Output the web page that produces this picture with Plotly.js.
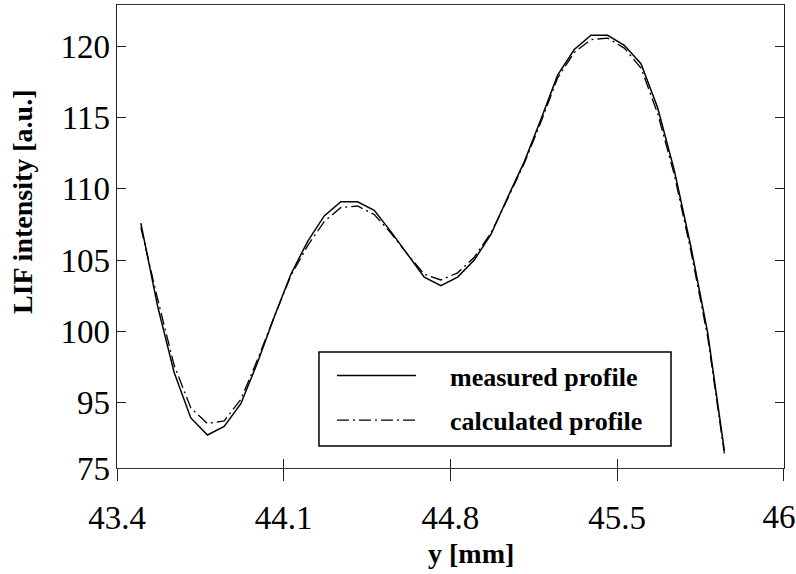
<!DOCTYPE html>
<html>
<head>
<meta charset="utf-8">
<script src="https://cdn.plot.ly/plotly-3.0.1.min.js"></script>
<style>html,body{margin:0;padding:0;background:#fff;}#chart{width:796px;height:574px;}</style>
</head>
<body>
<div id="chart"></div>
<script>
// position along y [mm]
const yPos = [43.50,43.57,43.64,43.71,43.78,43.85,43.92,43.99,44.06,44.13,
              44.20,44.27,44.34,44.41,44.48,44.55,44.62,44.69,44.76,44.83,
              44.90,44.97,45.04,45.11,45.18,45.25,45.32,45.39,45.46,45.53,
              45.60,45.67,45.74,45.81,45.88,45.95];
const measured = [107.6,101.8,97.1,93.9,92.7,93.3,94.9,97.8,101.0,104.0,
                  106.3,108.1,109.1,109.1,108.5,107.0,105.4,103.8,103.2,103.8,
                  105.0,106.8,109.4,111.9,114.9,118.0,119.8,120.8,120.8,120.1,
                  118.8,115.7,111.3,105.9,99.9,91.6];
const calculated = [107.3,102.3,97.6,94.6,93.5,93.7,95.2,98.0,101.0,103.9,
                    106.0,107.7,108.7,108.8,108.2,106.9,105.4,104.0,103.6,104.1,
                    105.2,106.9,109.3,111.8,114.7,117.8,119.6,120.5,120.6,119.9,
                    118.5,115.3,111.0,105.6,99.6,91.4];
const xTickVals = [43.4,44.1,44.8,45.5,46.2];
const xTickText = ['43.4','44.1','44.8','45.5','46'];
const yTickVals = [90.38,95,100,105,110,115,120];
const yTickText = ['75','95','100','105','110','115','120'];
const seriesNames = ['measured profile','calculated profile'];

const serif = '"Liberation Serif","Times New Roman",serif';

// main axis labels all ticks but the last; the overlay axis labels the last one (shifted in from the edge)
const lastIdx = xTickVals.length - 1;
const mainText = xTickText.map(function (t, i) { return i === lastIdx ? '' : t; });
const edgeText = xTickText.map(function (t, i) { return i === lastIdx ? t : ''; });

const traces = [
  {x: yPos, y: measured, type: 'scatter', mode: 'lines', name: '<b>' + seriesNames[0] + '</b>',
   line: {color: '#000', width: 1.5}, legendgroup: 'a'},
  {x: yPos, y: calculated, type: 'scatter', mode: 'lines', name: '<b>' + seriesNames[1] + '</b>',
   xaxis: 'x2',
   line: {color: '#000', width: 1.3, dash: '12px,4px,2px,4px'}, legendgroup: 'b'}
];

const xRange = [43.4, 46.2005];

const layout = {
  width: 796, height: 574,
  margin: {l: 117, r: 12, t: 5, b: 106},
  paper_bgcolor: '#fff', plot_bgcolor: '#fff',
  showlegend: true,
  xaxis: {
    range: xRange, tickmode: 'array', tickvals: xTickVals, ticktext: mainText,
    ticks: 'outside', ticklen: 12, tickwidth: 1, tickcolor: '#222',
    showline: true, linecolor: '#333', linewidth: 1.3, mirror: true,
    showgrid: false, zeroline: false, ticklabelstandoff: 8, ticklabeloverflow: 'allow',
    tickfont: {family: serif, size: 33, color: '#000'}
  },
  xaxis2: {
    overlaying: 'x', matches: 'x', anchor: 'y', side: 'bottom',
    range: xRange, tickmode: 'array', tickvals: xTickVals, ticktext: edgeText,
    ticks: 'inside', ticklen: 9, tickwidth: 1, tickcolor: '#222',
    showticklabels: true, ticklabelshift: -5, ticklabelstandoff: 26, ticklabeloverflow: 'allow',
    tickfont: {family: serif, size: 33, color: '#000'},
    showline: false, showgrid: false, zeroline: false
  },
  yaxis: {
    range: [90.38, 122.93], tickmode: 'array', tickvals: yTickVals, ticktext: yTickText,
    ticks: 'inside', ticklen: 9, tickwidth: 1, tickcolor: '#222',
    showline: true, linecolor: '#222', linewidth: 1.3, mirror: 'ticks',
    showgrid: false, zeroline: false, ticklabelstandoff: -1, ticklabeloverflow: 'allow',
    tickfont: {family: serif, size: 33, color: '#000'}
  },
  legend: {
    x: 0.3028, y: 0.2505, xanchor: 'left', yanchor: 'top',
    borderwidth: 0, bgcolor: 'rgba(0,0,0,0)',
    font: {family: serif, size: 26, color: '#000'},
    itemwidth: 121, tracegroupgap: 8, traceorder: 'grouped'
  },
  shapes: [
    {type: 'rect', xref: 'paper', yref: 'paper', layer: 'above',
     x0: 0.3028, x1: 0.8306, y0: 0.0475, y1: 0.2505,
     line: {color: '#000', width: 1.5}, fillcolor: 'rgba(0,0,0,0)'}
  ],
  annotations: [
    {text: '<b>y [mm]</b>', xref: 'paper', yref: 'paper', x: 0.53, y: -0.1836,
     xanchor: 'center', yanchor: 'middle', showarrow: false,
     font: {family: serif, size: 28, color: '#000'}},
    {text: '<b>LIF intensity [a.u.]</b>', xref: 'paper', yref: 'paper', x: -0.1424, y: 0.5745,
     xanchor: 'center', yanchor: 'middle', showarrow: false, textangle: -90,
     font: {family: serif, size: 28, color: '#000'}}
  ]
};

Plotly.newPlot('chart', traces, layout, {displayModeBar: false, staticPlot: true}).then(function () {
  document.querySelectorAll('#chart .legendlines path').forEach(function (p) {
    p.setAttribute('d', 'M18,0h79');
  });
});
</script>
</body>
</html>
